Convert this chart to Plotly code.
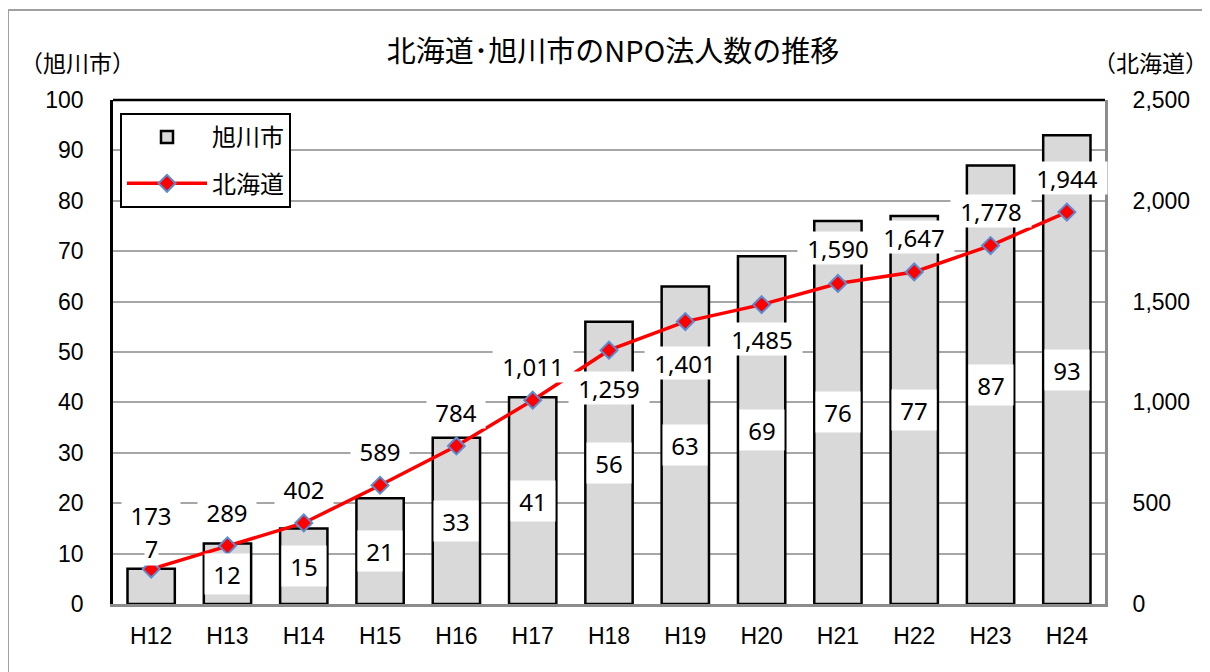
import plotly.graph_objects as go

categories = ["H12", "H13", "H14", "H15", "H16", "H17", "H18", "H19", "H20", "H21", "H22", "H23", "H24"]
asahikawa = [7, 12, 15, 21, 33, 41, 56, 63, 69, 76, 77, 87, 93]
hokkaido = [173, 289, 402, 589, 784, 1011, 1259, 1401, 1485, 1590, 1647, 1778, 1944]
line_label_shift = [54, 34, 34, 34, 34, 34, -38, -41, -34, 35, 35, 35, 34]
left_ticks = [0, 10, 20, 30, 40, 50, 60, 70, 80, 90, 100]
right_ticks = [0, 500, 1000, 1500, 2000, 2500]
right_tick_text = ["0", "500", "1,000", "1,500", "2,000", "2,500"]

CJK = "Noto Sans CJK JP"
NUM = "Liberation Sans"
LBL = "Noto Sans"

# page body has an 8px margin; figure size compensates
W, H = 1202, 664
L, R, T, B = 105, 105, 92, 68
PW, PH = W - L - R, H - T - B


def px_x(x):
    return (x - L) / PW


def px_y(y):
    return 1 + (T - y) / PH


fig = go.Figure()
fig.add_trace(go.Bar(
    x=categories, y=asahikawa, name="旭川市", yaxis="y",
    marker=dict(color="#d9d9d9", line=dict(color="black", width=2.5)),
    width=0.62, legendgroup="a", hoverinfo="skip",
))
fig.add_trace(go.Scatter(
    x=categories, y=hokkaido, name="北海道", yaxis="y2", mode="lines+markers",
    line=dict(color="#ff0000", width=3.5),
    marker=dict(symbol="diamond", size=13, color="#ff0000",
                line=dict(color="#5b8bd0", width=2)),
    legendgroup="b", hoverinfo="skip",
))

annotations = []
for c, v in zip(categories, asahikawa):
    if v < 10:
        annotations.append(dict(x=c, y=v, xref="x", yref="y", text=str(v), showarrow=False,
                                yshift=20, font=dict(family=LBL, size=23, color="black"),
                                bgcolor="white", borderpad=0))
    else:
        annotations.append(dict(x=c, y=v / 2, xref="x", yref="y", text=str(v), showarrow=False,
                                font=dict(family=LBL, size=24, color="black"),
                                bgcolor="white", width=42, height=38))
for c, v, s in zip(categories, hokkaido, line_label_shift):
    txt = f"{v:,}"
    annotations.append(dict(x=c, y=v, xref="x", yref="y2", text=txt, showarrow=False,
                            yshift=s, font=dict(family=LBL, size=24, color="black"),
                            bgcolor="white", width=78 if v >= 1000 else 56, height=30))

annotations.append(dict(x=px_x(69), y=px_y(54), xref="paper", yref="paper", text="（旭川市）",
                        showarrow=False, xanchor="center", yanchor="middle",
                        font=dict(family=CJK, size=23, color="black")))
annotations.append(dict(x=px_x(1142), y=px_y(54), xref="paper", yref="paper", text="（北海道）",
                        showarrow=False, xanchor="center", yanchor="middle",
                        font=dict(family=CJK, size=23, color="black")))

fig.update_layout(
    width=W, height=H,
    margin=dict(l=L, r=R, t=T, b=B),
    paper_bgcolor="white", plot_bgcolor="white",
    title=dict(text="北海道･旭川市のNPO法人数の推移", x=605 / W, xanchor="center",
               y=1 - 44 / H, yanchor="middle",
               font=dict(family=CJK, size=29, color="black")),
    showlegend=True,
    legend=dict(x=px_x(112), y=px_y(105), xanchor="left", yanchor="top",
                bordercolor="black", borderwidth=2, bgcolor="white",
                font=dict(family=CJK, size=24, color="black"),
                traceorder="grouped", tracegroupgap=12, itemwidth=80,
                entrywidth=175, entrywidthmode="pixels"),
    xaxis=dict(range=[-0.5, len(categories) - 0.5], showline=True, linecolor="#8c8c8c", linewidth=3,
               ticks="", tickfont=dict(family=NUM, size=23, color="black"), ticklabelstandoff=9,
               showgrid=False, zeroline=False),
    yaxis=dict(range=[0, 100], tickvals=left_ticks, showgrid=True, gridcolor="#a6a6a6", gridwidth=1.5,
               showline=True, linecolor="black", linewidth=2.5, ticks="", zeroline=False,
               tickfont=dict(family=NUM, size=23, color="black"), ticklabelstandoff=22),
    yaxis2=dict(range=[0, 2500], tickvals=right_ticks, ticktext=right_tick_text, overlaying="y",
                side="right", showgrid=False, showline=True, linecolor="#8c8c8c", linewidth=3,
                ticks="", zeroline=False,
                tickfont=dict(family=NUM, size=23, color="black"), ticklabelstandoff=20),
    annotations=annotations,
    shapes=[
        dict(type="line", xref="paper", yref="paper", x0=0, x1=1, y0=1, y1=1,
             line=dict(color="black", width=2.5)),
        dict(type="rect", xref="paper", yref="paper",
             x0=px_x(0), x1=px_x(1240), y0=px_y(700), y1=px_y(2),
             line=dict(color="#a0a0a0", width=2), layer="below"),
    ],
)

fig.write_html("out.html")
